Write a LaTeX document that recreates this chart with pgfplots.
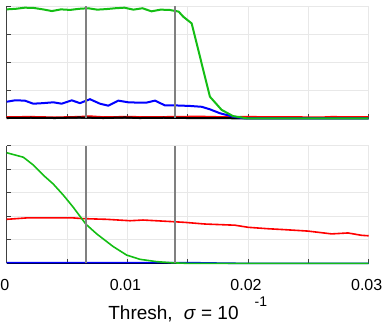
\documentclass[border=0pt]{standalone}
\usepackage{fontspec}
\setmainfont{Liberation Sans}
\usepackage{pgfplots}
\pgfplotsset{compat=1.18}

\definecolor{mgreen}{RGB}{20,190,20}
\definecolor{vline}{RGB}{128,128,128}

\pgfplotsset{
  panel/.style={
    scale only axis, width=362pt,
    xmin=0, xmax=0.03,
    axis x line*=bottom, axis y line*=left,
    axis line style={-, black!75, line width=0.8pt},
    tick align=inside, major tick length=4pt,
    tick style={black!75, line width=0.6pt},
    xtick={0,0.005,0.01,0.015,0.02,0.025,0.03},
    scaled x ticks=false, scaled y ticks=false,
    grid=major, major grid style={gray!18, line width=0.6pt},
    yticklabels={},
    ticklabel style={font=\fontsize{16}{16}\selectfont},
    xticklabel style={yshift=-12pt, xshift=-2pt},
    clip=false,
  },
}

\begin{document}
\begin{tikzpicture}
\path[use as bounding box] (0,0) rectangle (385pt,-324pt);

% top panel
\begin{axis}[panel, at={(6.7pt,-118.3pt)}, anchor=south west,
  height=112.3pt, ymin=0, ymax=4, ytick={0,1,2,3,4}, xticklabels={}]
  \addplot[red, line width=2pt] coordinates {
    (0,0.04)(0.002,0.05)(0.004,0.03)(0.006,0.05)(0.0069,0.07)(0.008,0.04)
    (0.01,0.05)(0.012,0.04)(0.014,0.05)(0.016,0.06)(0.018,0.04)(0.02,0.05)
    (0.022,0.04)(0.024,0.04)(0.026,0.03)(0.027,0.05)(0.028,0.04)(0.03,0.04)};
  \addplot[black, line width=2pt] coordinates {
    (0,0.01)(0.002,0.02)(0.004,0.01)(0.006,0.03)(0.008,0.01)(0.0098,0.03)
    (0.011,0.01)(0.013,0.02)(0.015,0.01)(0.017,0.01)(0.019,0.0)(0.03,0.0)};
  \addplot[blue, line width=2pt] coordinates {
    (0,0.59)(0.00069,0.64)(0.0015,0.63)(0.0022,0.52)(0.003,0.54)(0.00386,0.57)
    (0.00456,0.52)(0.00539,0.64)(0.00607,0.54)(0.0069,0.68)(0.00773,0.52)
    (0.00842,0.45)(0.00925,0.63)(0.01007,0.57)(0.01077,0.56)(0.0116,0.56)
    (0.01229,0.63)(0.01311,0.46)(0.01394,0.46)(0.01519,0.44)(0.01616,0.41)
    (0.01684,0.32)(0.01767,0.18)(0.01875,0.06)(0.01966,0.0)(0.03,0.0)};
  \addplot[mgreen, line width=2pt] coordinates {
    (0,3.88)(0.00075,3.90)(0.0015,3.94)(0.00225,3.93)(0.003,3.88)(0.00375,3.82)
    (0.0045,3.88)(0.00525,3.86)(0.006,3.90)(0.00675,3.92)(0.0075,3.87)
    (0.00825,3.89)(0.009,3.92)(0.00975,3.94)(0.0105,3.87)(0.01125,3.92)
    (0.012,3.81)(0.01275,3.87)(0.0135,3.86)(0.01425,3.80)(0.01463,3.62)
    (0.01533,3.38)(0.01684,0.77)(0.01781,0.30)(0.01875,0.08)(0.01988,0.0)
    (0.03,0.0)};
  \addplot[vline, line width=2.2pt] coordinates {(0.00657,0)(0.00657,4)};
  \addplot[vline, line width=2.2pt] coordinates {(0.01397,0)(0.01397,4)};
\end{axis}

% bottom panel
\begin{axis}[panel, at={(6.7pt,-263.3pt)}, anchor=south west,
  height=117.6pt, ymin=0, ymax=5, ytick={0,1,2,3,4,5},
  xticklabels={0,,0.01,,0.02,,0.03},
  xlabel={Thresh,\hspace{11pt}\textit{σ} = 10\hspace{16pt}\raisebox{13pt}{\fontsize{14}{14}\selectfont -1}},
  xlabel style={at={(axis description cs:0.5,0)}, anchor=base,
    yshift=-56pt, font=\fontsize{19}{19}\selectfont}]
  \addplot[black, line width=1.6pt] coordinates {(0,0)(0.03,0)};
  \addplot[blue, line width=1.6pt] coordinates {
    (0,0.03)(0.005,0.03)(0.01,0.03)(0.015,0.03)(0.0175,0.01)(0.019,0)(0.03,0)};
  \addplot[red, line width=1.6pt] coordinates {
    (0,1.87)(0.00166,1.93)(0.0055,1.93)(0.0063,1.90)(0.00828,1.87)(0.01022,1.81)
    (0.0113,1.84)(0.01378,1.77)(0.01477,1.74)(0.01643,1.67)(0.01891,1.62)
    (0.02002,1.53)(0.02165,1.47)(0.02306,1.43)(0.02496,1.37)(0.02579,1.32)
    (0.02693,1.25)(0.02828,1.29)(0.02941,1.19)(0.03,1.17)};
  \addplot[mgreen, line width=1.6pt] coordinates {
    (0,4.70)(0.00138,4.51)(0.0022,4.18)(0.00303,3.75)(0.00386,3.37)
    (0.00469,2.90)(0.00552,2.38)(0.00657,1.66)(0.00746,1.25)(0.00883,0.71)
    (0.00994,0.35)(0.01104,0.17)(0.01243,0.07)(0.01378,0.02)(0.01491,0.0)
    (0.03,0.0)};
  \addplot[vline, line width=2.2pt] coordinates {(0.00657,0)(0.00657,5)};
  \addplot[vline, line width=2.2pt] coordinates {(0.01397,0)(0.01397,5)};
\end{axis}
\end{tikzpicture}
\end{document}
